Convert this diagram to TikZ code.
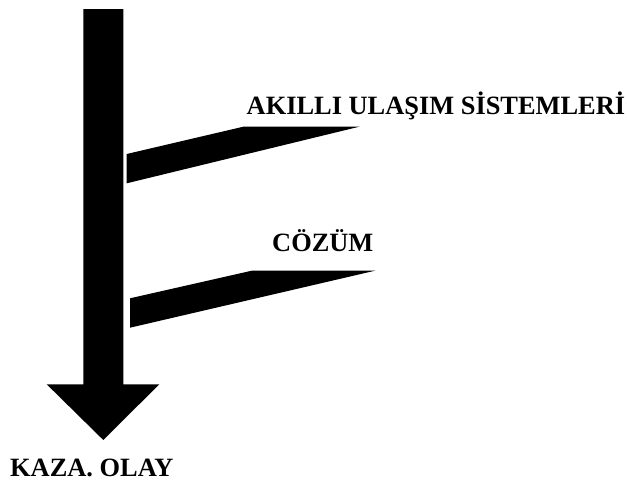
\documentclass[tikz,border=0pt]{standalone}
\usepackage{fontspec}
\setmainfont{Liberation Serif}
\begin{document}
\begin{tikzpicture}[x=1pt,y=-1pt,
  lbl/.style={anchor=base west,inner sep=0pt,font=\fontsize{26.4}{30}\selectfont\bfseries},
  blk/.style={fill=black,draw=none}]
\useasboundingbox (0,0) rectangle (627,483);
% main arrow
\fill[blk] (83.3,9) -- (123.3,9) -- (123.3,384.3) -- (159.3,384.3) -- (103.3,440) -- (46.7,384.3) -- (83.3,384.3) -- cycle;
% branch 1
\fill[blk] (126.7,154) -- (243.3,126.7) -- (359.3,126.7) -- (126.7,183.3) -- cycle;
% branch 2
\fill[blk] (130,298.3) -- (251.7,270.7) -- (375,270.7) -- (130,327.7) -- cycle;
\node[lbl] (ais) at (246.5,114.5) {AKILLI ULAŞIM SİSTEMLERİ};
\node[lbl] (coz) at (272,251.7) {CÖZÜM};
\node[lbl] (kaza) at (10,476.7) {KAZA. OLAY};
\end{tikzpicture}
\end{document}
